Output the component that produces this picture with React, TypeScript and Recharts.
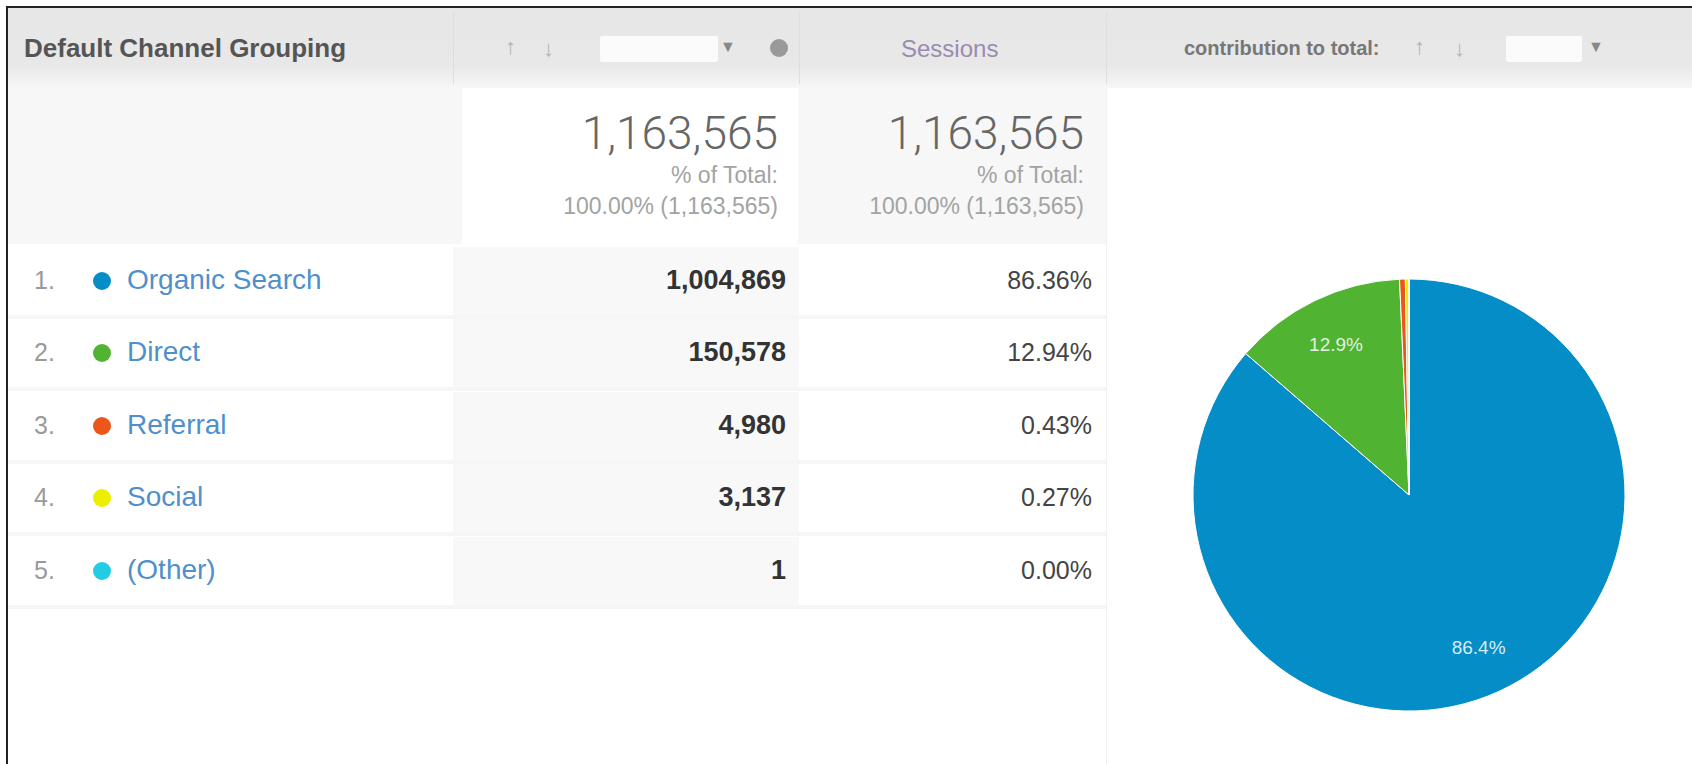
import React from 'react';
import { PieChart, Pie, Cell } from 'recharts';

const channels = ['Organic Search', 'Direct', 'Referral', 'Social', '(Other)'];
const sessions = [1004869, 150578, 4980, 3137, 1];
const colors = ['#058dc7', '#50b432', '#ed561b', '#edef00', '#24cbe5'];
const headerLabels = ['Default Channel Grouping', 'Sessions', 'contribution to total:'];

const total = sessions.reduce((a, b) => a + b, 0);
const fmt = (n: number) => n.toLocaleString('en-US');
const pct = (n: number, d = 2) => ((n / total) * 100).toFixed(d) + '%';

const pieData = channels.map((name, i) => ({ name, value: sessions[i] }));

const FONT = '"Liberation Sans", Arial, sans-serif';
const RAD = Math.PI / 180;

const renderLabel = (props: any) => {
  const { cx, cy, midAngle, outerRadius, value } = props;
  if (value / total < 0.05) return null;
  const r = outerRadius * 0.776;
  const x = cx + r * Math.cos(-midAngle * RAD);
  const y = cy + r * Math.sin(-midAngle * RAD);
  return (
    <text x={x} y={y} fill="#ffffff" fillOpacity={0.85} fontSize={19} fontFamily={FONT} textAnchor="middle" dominantBaseline="central">
      {((value / total) * 100).toFixed(1) + '%'}
    </text>
  );
};

const abs = (s: React.CSSProperties): React.CSSProperties => ({ position: 'absolute', ...s });

const ROW_TOP = 247;
const ROW_PITCH = 72.4;

export default function App() {
  return (
    <div style={abs({ left: 0, top: 0, width: 1692, height: 764, background: '#fff', overflow: 'hidden', fontFamily: FONT })}>
      {/* header band */}
      <div style={abs({ left: 8, top: 8, width: 1684, height: 80, background: 'linear-gradient(#e7e7e7 0%, #e8e8e8 72%, #f7f7f7 100%)' })} />
      {[453, 799, 1106].map((x) => (
        <div key={x} style={abs({ left: x, top: 12, width: 1, height: 72, background: '#dedede' })} />
      ))}
      <div style={abs({ left: 24, top: 33, fontSize: 26, fontWeight: 'bold', color: '#555' })}>{headerLabels[0]}</div>
      {/* col2 header controls */}
      <div style={abs({ left: 505, top: 34, fontSize: 22, color: '#b5b5b5' })}>↑</div>
      <div style={abs({ left: 543, top: 36, fontSize: 22, color: '#b5b5b5' })}>↓</div>
      <div style={abs({ left: 600, top: 36, width: 118, height: 26, background: '#fbfbfb', borderRadius: 2 })} />
      <div style={abs({ left: 720, top: 38, fontSize: 16, color: '#888' })}>▼</div>
      <div style={abs({ left: 770, top: 39, width: 18, height: 18, borderRadius: 9, background: '#999' })} />
      <div style={abs({ left: 901, top: 35, fontSize: 24, color: '#9a8bb0' })}>{headerLabels[1]}</div>
      {/* col4 header */}
      <div style={abs({ left: 1184, top: 37, fontSize: 20, fontWeight: 'bold', color: '#777' })}>{headerLabels[2]}</div>
      <div style={abs({ left: 1414, top: 34, fontSize: 22, color: '#b5b5b5' })}>↑</div>
      <div style={abs({ left: 1454, top: 36, fontSize: 22, color: '#b5b5b5' })}>↓</div>
      <div style={abs({ left: 1506, top: 36, width: 76, height: 26, background: '#fbfbfb', borderRadius: 2 })} />
      <div style={abs({ left: 1588, top: 38, fontSize: 16, color: '#888' })}>▼</div>

      {/* summary row */}
      <div style={abs({ left: 8, top: 88, width: 454, height: 156, background: '#f7f7f7' })} />
      <div style={abs({ left: 462, top: 88, width: 336, height: 156, background: '#ffffff' })} />
      <div style={abs({ left: 798, top: 88, width: 308, height: 156, background: '#f7f7f7' })} />
      {[778, 1084].map((right) => (
        <div key={right} style={abs({ left: right - 300, top: 108, width: 300, textAlign: 'right', color: '#666' })}>
          <div style={{ fontSize: 46, lineHeight: '50px', fontWeight: 300, fontFamily: 'Roboto, ' + FONT }}>{fmt(total)}</div>
          <div style={{ fontSize: 23, lineHeight: '34px', color: '#a3a3a3' }}>% of Total:</div>
          <div style={{ fontSize: 23, lineHeight: '28px', color: '#a3a3a3' }}>{'100.00% (' + fmt(total) + ')'}</div>
        </div>
      ))}

      {/* data rows */}
      {channels.map((name, i) => {
        const top = ROW_TOP + i * ROW_PITCH;
        return (
          <React.Fragment key={name}>
            <div style={abs({ left: 8, top, width: 445, height: 68, background: '#ffffff' })} />
            <div style={abs({ left: 453, top, width: 346, height: 68, background: '#f8f8f8' })} />
            <div style={abs({ left: 799, top, width: 307, height: 68, background: '#ffffff' })} />
            <div style={abs({ left: 8, top: top + 68, width: 1098, height: 4, background: '#f6f6f6' })} />
            <div style={abs({ left: 34, top: top + 19, fontSize: 25, color: '#9a9a9a' })}>{i + 1 + '.'}</div>
            <div style={abs({ left: 93, top: top + 25, width: 18, height: 18, borderRadius: 9, background: colors[i] })} />
            <div style={abs({ left: 127, top: top + 17, fontSize: 28, color: '#4f8fcc' })}>{name}</div>
            <div style={abs({ left: 486, top: top + 18, width: 300, textAlign: 'right', fontSize: 27, fontWeight: 'bold', color: '#333' })}>{fmt(sessions[i])}</div>
            <div style={abs({ left: 792, top: top + 19, width: 300, textAlign: 'right', fontSize: 25, color: '#444' })}>{pct(sessions[i])}</div>
          </React.Fragment>
        );
      })}
      <div style={abs({ left: 1106, top: 88, width: 1, height: 676, background: '#f1f1f1' })} />

      {/* pie */}
      <div style={abs({ left: 1106, top: 244, width: 586, height: 520 })}>
        <PieChart width={586} height={520}>
          <Pie
            data={pieData}
            dataKey="value"
            nameKey="name"
            cx={298}
            cy={246}
            outerRadius={216}
            startAngle={90}
            endAngle={-270}
            stroke="#ffffff"
            strokeWidth={1}
            label={renderLabel}
            labelLine={false}
            isAnimationActive={false}
          >
            {pieData.map((d, i) => (
              <Cell key={d.name} fill={colors[i]} />
            ))}
          </Pie>
        </PieChart>
      </div>

      {/* frame */}
      <div style={abs({ left: 6, top: 6, width: 1700, height: 800, borderLeft: '2px solid #222', borderTop: '2px solid #222' })} />
    </div>
  );
}
